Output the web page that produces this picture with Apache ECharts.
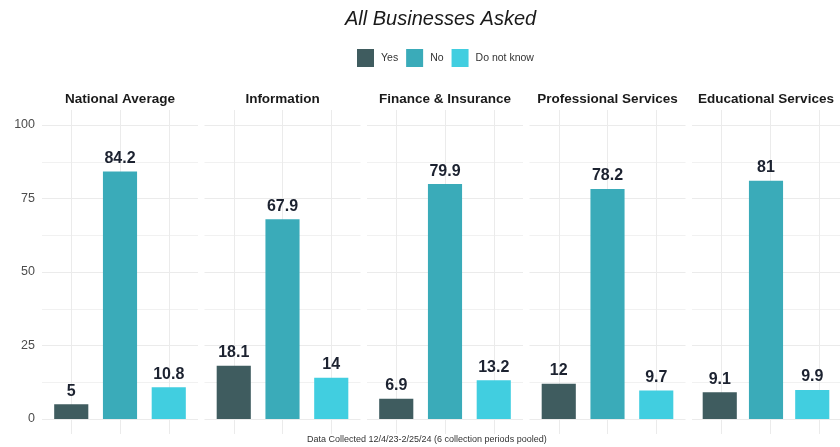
<!DOCTYPE html>
<html>
<head>
<meta charset="utf-8">
<script src="https://cdn.jsdelivr.net/npm/echarts@6/dist/echarts.min.js"></script>
<style>
html,body{margin:0;padding:0;background:#fff;}
#chart{width:840px;height:447px;}
</style>
</head>
<body>
<div id="chart"></div>
<script>
const panels = ['National Average', 'Information', 'Finance & Insurance', 'Professional Services', 'Educational Services'];
const answers = ['Yes', 'No', 'Do not know'];
const yesValues = [5, 18.1, 6.9, 12, 9.1];
const noValues = [84.2, 67.9, 79.9, 78.2, 81];
const dontKnowValues = [10.8, 14, 13.2, 9.7, 9.9];
const yTicks = [0, 25, 50, 75, 100];

const valuesByAnswer = [yesValues, noValues, dontKnowValues];
const colors = ['#3f5c5f', '#3aabb9', '#41cee0'];
const FONT = "'Liberation Sans', Arial, sans-serif";

const panelLeft0 = 42, panelStep = 162.5, panelW = 156;
const unit = panelW / 3.2;
const gridTop = 125, gridBottomY = 419; // y of 100 and 0
const H = 447;

const grids = [], xAxes = [], yAxes = [], series = [];
panels.forEach((p, i) => {
  const left = panelLeft0 + i * panelStep;
  // background grid for vertical (category) grid lines
  grids.push({left: left + 0.6 * unit, width: 2 * unit, top: 110, bottom: H - 434, containLabel: false});
  xAxes.push({gridIndex: 2 * i, type: 'category', boundaryGap: false, data: answers,
    axisLine: {show: false}, axisTick: {show: false}, axisLabel: {show: false},
    splitLine: {show: true, interval: 0, lineStyle: {color: '#ebebeb', width: 1}}});
  yAxes.push({gridIndex: 2 * i, type: 'value', show: false, min: 0, max: 1});
  // data grid
  grids.push({left: left, width: panelW, top: gridTop, bottom: H - gridBottomY, containLabel: false});
  xAxes.push({gridIndex: 2 * i + 1, type: 'value', min: 0.4, max: 3.6, position: 'top',
    name: p, nameLocation: 'middle', nameGap: 19,
    nameTextStyle: {fontFamily: FONT, fontSize: 13.5, fontWeight: 'bold', color: '#1a1a1a'},
    axisLine: {show: false}, axisTick: {show: false}, axisLabel: {show: false}, splitLine: {show: false}});
  yAxes.push({gridIndex: 2 * i + 1, type: 'value', min: yTicks[0], max: yTicks[yTicks.length - 1], interval: 25,
    axisLine: {show: false}, axisTick: {show: false},
    axisLabel: {show: i === 0, fontFamily: FONT, fontSize: 12.5, color: '#4d4d4d', margin: 7},
    splitLine: {show: true, lineStyle: {color: '#ebebeb', width: 1}},
    minorTick: {show: false, splitNumber: 2},
    minorSplitLine: {show: true, lineStyle: {color: '#f1f1f1', width: 1}}});
  answers.forEach((a, j) => {
    series.push({
      type: 'bar', name: a, xAxisIndex: 2 * i + 1, yAxisIndex: 2 * i + 1,
      data: [[j + 1, valuesByAnswer[j][i]]],
      barWidth: 0.7 * unit, barGap: '-100%',
      itemStyle: {color: colors[j]},
      label: {show: true, position: 'top', distance: 5, fontFamily: FONT, fontSize: 16, fontWeight: 'bold', color: '#1c2230',
        formatter: (d) => String(d.value[1])},
      animation: false
    });
  });
});

const chart = echarts.init(document.getElementById('chart'), null, {renderer: 'canvas'});
chart.setOption({
  backgroundColor: '#ffffff',
  animation: false,
  title: [
    {text: 'All Businesses Asked', left: 345, top: 9, padding: 0,
     textStyle: {fontFamily: FONT, fontSize: 20, fontStyle: 'italic', fontWeight: 'normal', color: '#1a1a1a'}},
    {text: 'Data Collected 12/4/23-2/25/24 (6 collection periods pooled)', left: 307, top: 435, padding: 0,
     textStyle: {fontFamily: FONT, fontSize: 9, fontWeight: 'normal', color: '#333333'}}
  ],
  legend: {data: answers, left: 357, top: 49, padding: 0, itemWidth: 17, itemHeight: 18, itemGap: 8, icon: 'rect',
    textStyle: {fontFamily: FONT, fontSize: 10.5, color: '#333333', padding: [0, 0, 0, 2]}},
  grid: grids, xAxis: xAxes, yAxis: yAxes, series: series
});
</script>
</body>
</html>
